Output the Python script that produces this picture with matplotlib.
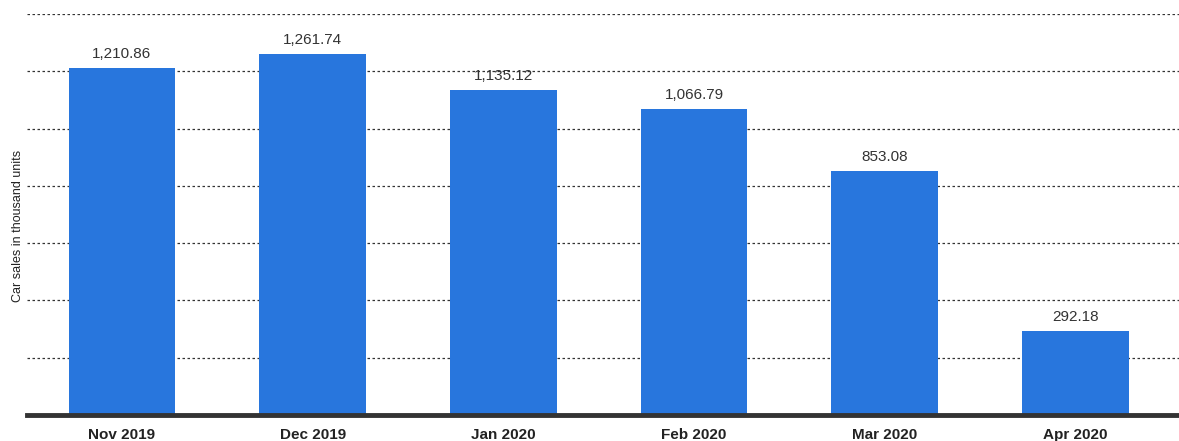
import matplotlib
matplotlib.use("Agg")
import matplotlib.pyplot as plt

categories = ["Nov 2019", "Dec 2019", "Jan 2020", "Feb 2020", "Mar 2020", "Apr 2020"]
values = [1210.86, 1261.74, 1135.12, 1066.79, 853.08, 292.18]
value_labels = ["1,210.86", "1,261.74", "1,135.12", "1,066.79", "853.08", "292.18"]
grid_ticks = [200, 400, 600, 800, 1000, 1200, 1400]

plt.rcParams['font.family'] = ['Liberation Sans', 'DejaVu Sans']

fig = plt.figure(figsize=(11.79, 4.41), dpi=100)
W, H = 1179, 441
ax = fig.add_axes([27 / W, 1 - 415 / H, (1179 - 27) / W, (415 - 14) / H])

x = list(range(len(categories)))
ax.bar(x, values, width=0.56, color="#2876dd", zorder=3)

for xi, v, lab in zip(x, values, value_labels):
    ax.annotate(lab, (xi, v), xytext=(0, 5), textcoords="offset points",
                ha="center", va="bottom", fontsize=11, color="#333333", zorder=4)

ax.set_xlim(-0.498, 5.543)
ax.set_ylim(0, 1400)
ax.set_yticks(grid_ticks)
ax.yaxis.grid(True, linestyle=(0, (2, 2)), color="#333333", linewidth=0.9, zorder=0)
ax.tick_params(axis="y", length=0, labelleft=False)
ax.set_xticks(x)
ax.set_xticklabels(categories, fontsize=11, color="#222222", fontweight="bold")
for t in ax.get_xticklabels():
    t.set_verticalalignment("baseline")
ax.tick_params(axis="x", length=0, pad=17.5)

for s in ["top", "right", "left"]:
    ax.spines[s].set_visible(False)
ax.spines["bottom"].set_color("#333333")
ax.spines["bottom"].set_linewidth(3.5)
ax.spines["bottom"].set_zorder(5)

fig.text(18 / W, 1 - 226 / H, "Car sales in thousand units", rotation=90,
         ha="center", va="center", fontsize=9, color="#222222")

fig.savefig("out.png", dpi=100)
